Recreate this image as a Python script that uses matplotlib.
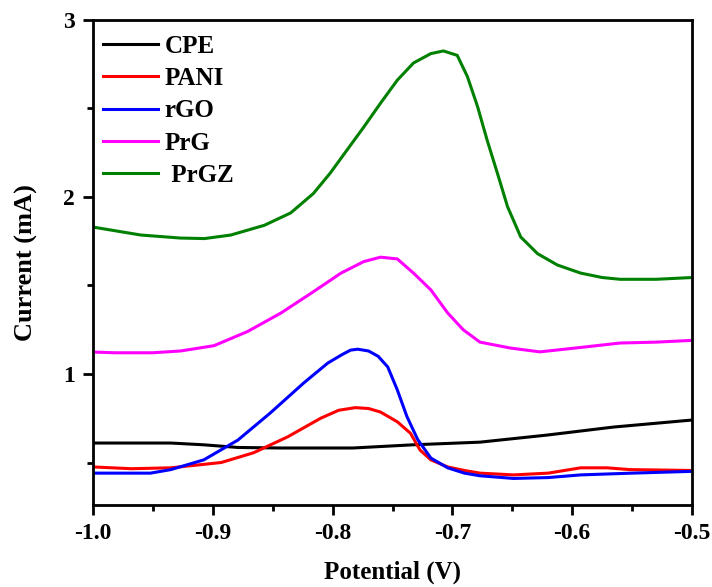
import matplotlib
matplotlib.use("Agg")
import matplotlib.pyplot as plt
from matplotlib.ticker import MultipleLocator

plt.rcParams['font.family'] = 'Liberation Serif'
plt.rcParams['font.weight'] = 'bold'

# CPE
cpe_x = [-1.0, -0.935, -0.9075, -0.879, -0.843, -0.783, -0.733, -0.677, -0.621, -0.566, -0.5]
cpe_y = [0.61, 0.61, 0.60, 0.585, 0.582, 0.582, 0.60, 0.615, 0.655, 0.70, 0.74]

# PANI
pani_x = [-1.0, -0.968, -0.935, -0.893, -0.866, -0.8375, -0.81, -0.795, -0.781, -0.77,
          -0.76, -0.746, -0.735, -0.727, -0.718, -0.704, -0.69, -0.677, -0.649, -0.62,
          -0.593, -0.571, -0.552, -0.5]
pani_y = [0.475, 0.465, 0.47, 0.50, 0.555, 0.645, 0.75, 0.795, 0.81, 0.805,
          0.785, 0.73, 0.665, 0.57, 0.515, 0.475, 0.455, 0.44, 0.43, 0.44,
          0.47, 0.47, 0.46, 0.455]

# rGO
rgo_x = [-1.0, -0.952, -0.935, -0.9075, -0.879, -0.852, -0.824, -0.804, -0.792, -0.785,
         -0.779, -0.77, -0.762, -0.754, -0.746, -0.738, -0.729, -0.718, -0.704, -0.69,
         -0.677, -0.649, -0.62, -0.593, -0.55, -0.5]
rgo_y = [0.44, 0.44, 0.46, 0.515, 0.627, 0.78, 0.95, 1.062, 1.11, 1.135,
         1.14, 1.13, 1.10, 1.04, 0.91, 0.76, 0.63, 0.525, 0.47, 0.44,
         0.425, 0.41, 0.415, 0.43, 0.44, 0.45]

# PrG
prg_x = [-1.0, -0.982, -0.95, -0.927, -0.899, -0.871, -0.843, -0.816, -0.793, -0.774,
         -0.76, -0.746, -0.7325, -0.718, -0.704, -0.691, -0.677, -0.652, -0.627, -0.593,
         -0.56, -0.53, -0.5]
prg_y = [1.124, 1.12, 1.12, 1.13, 1.16, 1.24, 1.345, 1.465, 1.57, 1.635,
         1.66, 1.65, 1.57, 1.475, 1.345, 1.25, 1.18, 1.147, 1.125, 1.15,
         1.175, 1.18, 1.19]

# PrGZ
prgz_x = [-1.0, -0.96, -0.927, -0.907, -0.885, -0.857, -0.835, -0.816, -0.802, -0.788,
          -0.774, -0.76, -0.746, -0.7325, -0.718, -0.7075, -0.696, -0.6875, -0.679, -0.671,
          -0.6625, -0.654, -0.643, -0.629, -0.6125, -0.593, -0.575, -0.56, -0.53, -0.5]
prgz_y = [1.83, 1.785, 1.768, 1.765, 1.785, 1.84, 1.91, 2.02, 2.135, 2.265,
          2.395, 2.53, 2.66, 2.757, 2.81, 2.825, 2.80, 2.68, 2.51, 2.32,
          2.135, 1.945, 1.774, 1.68, 1.616, 1.57, 1.545, 1.535, 1.535, 1.545]

fig = plt.figure(figsize=(7.12, 5.87), dpi=100)
ax = fig.add_axes([0.1306, 0.1397, 0.8414, 0.8263])

lw = 2.2
ax.plot(cpe_x, cpe_y, color='black', lw=lw, label='CPE')
ax.plot(pani_x, pani_y, color='#ff0000', lw=lw, label='PANI')
ax.plot(rgo_x, rgo_y, color='#0000ff', lw=lw, label='rGO')
ax.plot(prg_x, prg_y, color='#ff00ff', lw=lw, label='PrG')
ax.plot(prgz_x, prgz_y, color='#008000', lw=lw, label=' PrGZ')

ax.set_xlim(-1.0, -0.5)
ax.set_ylim(0.26, 3.0)
ax.xaxis.set_major_locator(MultipleLocator(0.1))
ax.xaxis.set_minor_locator(MultipleLocator(0.05))
ax.yaxis.set_major_locator(MultipleLocator(1))
ax.yaxis.set_minor_locator(MultipleLocator(0.5))
ax.xaxis.set_major_formatter(plt.FuncFormatter(lambda v, p: '%.1f' % v))

for s in ax.spines.values():
    s.set_linewidth(2.0)
ax.tick_params(which='major', direction='out', length=7, width=2, labelsize=17, pad=6)
ax.tick_params(which='minor', direction='out', length=4, width=2)

ax.set_xlabel('Potential (V)', fontsize=18, fontweight='bold', labelpad=12)
ax.set_ylabel('Current (mA)', fontsize=19, fontweight='bold', labelpad=18)

ax.legend(loc='upper left', frameon=False, fontsize=18, handlelength=2.2,
          handletextpad=0.28, labelspacing=0.37, borderaxespad=0.2,
          bbox_to_anchor=(-0.009, 1.0))

fig.savefig('out.png', dpi=100)
